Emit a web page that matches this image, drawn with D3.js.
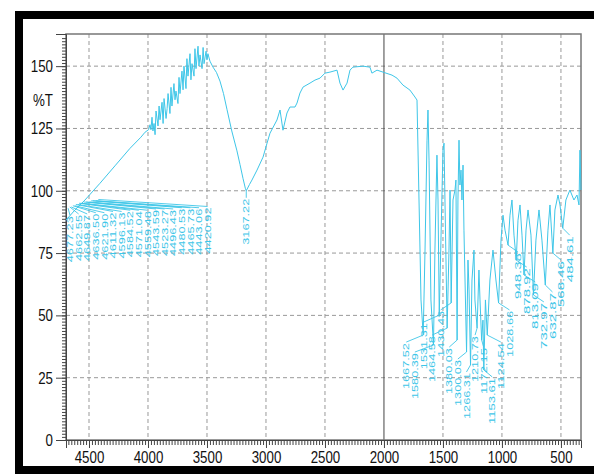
<!DOCTYPE html>
<html>
<head>
<meta charset="utf-8">
<script src="https://cdn.jsdelivr.net/npm/d3@7"></script>
<style>
    body { margin: 0; background: #fff; overflow: hidden; }
    svg { display: block; }
</style>
</head>
<body>
<div id="chart"></div>
<script>
// spectrum: [wavenumber cm-1, %T]
const spectrum = [
    [4695, 88.2], [4619, 92.3], [4534, 96.3], [4407, 103], [4280, 110], [4153, 117], [4060, 121.5], [4025, 123.5],
    [3995, 124.5], [3983, 126.5], [3975, 124.5], [3966, 129.5], [3958, 124], [3949, 127], [3940, 122.5],
    [3932, 132], [3915, 126], [3906, 134], [3898, 128.5], [3881, 135.5], [3872, 127], [3864, 137], [3847, 129],
    [3838, 133], [3830, 139], [3814, 131], [3805, 141.5], [3797, 134], [3780, 143], [3771, 136.5], [3763, 140],
    [3746, 135], [3737, 145.5], [3729, 139], [3712, 148], [3703, 140.5], [3695, 150], [3678, 141], [3670, 153],
    [3661, 146], [3644, 155], [3636, 144.5], [3627, 151], [3610, 146], [3602, 157], [3593, 149], [3576, 158],
    [3568, 150], [3559, 154.5], [3542, 149], [3533, 157.5], [3525, 151], [3508, 156], [3500, 152.5],
    [3492, 155], [3475, 152],
    [3449, 149.6], [3420, 147.5], [3390, 144], [3360, 139], [3330, 132.5], [3290, 124], [3246, 116],
    [3220, 110.5], [3195, 105], [3175, 101], [3167.22, 100], [3140, 102.5], [3119, 104.3],
    [3076, 108.3], [3025, 113.5], [2991, 119.1], [2966, 123.1], [2907, 128.4], [2881, 132.4], [2856, 124.3],
    [2822, 131.2], [2797, 133.6], [2754, 133.6], [2737, 135.2], [2712, 139.2], [2686, 141.6], [2627, 143.2],
    [2585, 144.4], [2542, 145.2], [2500, 147.2], [2458, 147.6], [2398, 148.4], [2373, 143.2], [2347, 140.4],
    [2313, 143.2], [2288, 148.4], [2263, 149.6], [2178, 150], [2119, 149.6], [2102, 147.2], [2059, 148.4],
    [2008, 147.6], [1932, 146.4], [1890, 145.2], [1839, 142.4], [1780, 140.4], [1737, 137.6], [1720, 136.4],
    [1703, 96.3], [1686, 56.2], [1667.52, 42.1], [1652, 76.2], [1635, 120.3], [1627, 132.4], [1618, 112.3],
    [1602, 56.2], [1580.39, 38.1], [1568, 76.2], [1551, 114.3], [1542, 96.3], [1531.31, 50.1], [1517, 80.2],
    [1500, 116.3], [1491, 119.1], [1483, 96.3], [1464.58, 44.9], [1449, 76.2], [1440, 100.3], [1430.43, 55],
    [1415, 96.3], [1398, 100.3], [1390, 104.3], [1380.03, 40.1], [1373, 96.3], [1364, 120.3], [1356, 102.3],
    [1347, 108.3], [1339, 96.3], [1330, 110.3], [1322, 84.2], [1300.03, 35.3], [1288, 72.2], [1279, 60.2],
    [1266.31, 30.1], [1254, 64.2], [1237, 76.2], [1229, 56.2], [1210.73, 44.9], [1195, 68.2], [1186, 56.2],
    [1172.15, 40.1], [1161, 48.1], [1153.61, 28.1], [1140, 56.2], [1124.54, 42.1], [1102, 64.2], [1076, 76.2],
    [1051, 64.2], [1028.66, 55], [1008, 80.2], [991, 90.2], [974, 84.2], [948.38, 78.2], [932, 90.2], [915, 96.3],
    [898, 82.2], [878.92, 72.2], [864, 88.2], [847, 94.3], [830, 82.2], [813.09, 66.2], [796, 84.2], [779, 92.3],
    [754, 82.2], [732.97, 58.2], [712, 80.2], [686, 92.3], [661, 80.2], [632.87, 62.2], [610, 84.2], [593, 94.3],
    [568.46, 75], [551, 92.3], [525, 98.3], [508, 94.3], [484.61, 85], [458, 96.3], [424, 100.3], [390, 96.3],
    [364, 98.3], [347, 94.3], [339, 116.3], [330, 100.3]
];

const peakPositions = [
    4677.23, 4662.55, 4649.87, 4636.50, 4621.90, 4611.32, 4596.13, 4584.52, 4571.04, 4559.48, 4543.59,
    4523.27, 4496.43, 4480.53, 4465.73, 4443.06, 4420.92,
    3167.22,
    1667.52, 1580.39, 1531.31, 1464.58, 1430.43, 1380.03, 1300.03, 1266.31, 1210.73, 1172.15, 1153.61,
    1124.54, 1028.66, 948.38, 878.92, 813.09, 732.97, 632.87, 568.46, 484.61
];
const peakValues = [
    93, 93.5, 93.5, 94, 94, 94.5, 94.5, 95, 95, 95, 95.5, 95.5, 95.5, 96, 96, 96, 96.5,
    100,
    42.1, 38.1, 50.1, 44.9, 55, 40.1, 35.3, 30.1, 44.9, 40.1, 28.1, 42.1, 55, 78.2, 72.2, 66.2, 58.2, 62.2, 75, 85
];

const xTicks = [4500, 4000, 3500, 3000, 2500, 2000, 1500, 1000, 500];
const yTicks = [0, 25, 50, 75, 100, 125, 150];

const width = 594, height = 474;
const margin = {top: 34, right: 13, bottom: 34, left: 66};
const cyan = "#3ec6e8";

const svg = d3.select("#chart").append("svg")
    .attr("width", width)
    .attr("height", height);

const x = d3.scaleLinear().domain([4695, 330]).range([margin.left, width - margin.right]);
const y = d3.scaleLinear().domain([0, 162.9]).range([height - margin.bottom, margin.top]);

// outer black frame (right side runs off the picture)
svg.append("path")
    .attr("d", "M700,15 H19 V470 H700")
    .attr("fill", "none")
    .attr("stroke", "#000")
    .attr("stroke-width", 8);

// grid
const grid = svg.append("g")
    .attr("stroke", "#999")
    .attr("stroke-dasharray", "4,3");
grid.selectAll("line.gx")
    .data(xTicks.filter(d => d !== 2000))
    .join("line")
    .attr("x1", d => x(d)).attr("x2", d => x(d))
    .attr("y1", y.range()[1]).attr("y2", y.range()[0]);
grid.selectAll("line.gy")
    .data(yTicks.filter(d => d > 0))
    .join("line")
    .attr("x1", x.range()[0]).attr("x2", x.range()[1])
    .attr("y1", d => y(d)).attr("y2", d => y(d));

svg.append("line")
    .attr("x1", x(2000)).attr("x2", x(2000))
    .attr("y1", y.range()[1]).attr("y2", y.range()[0])
    .attr("stroke", "#444");

svg.append("rect")
    .attr("x", x.range()[0]).attr("y", y.range()[1])
    .attr("width", x.range()[1] - x.range()[0])
    .attr("height", y.range()[0] - y.range()[1])
    .attr("fill", "none")
    .attr("stroke", "#777")
    .attr("stroke-width", 1.5);

// minor ticks
const minorY = d3.range(0, 162, 1.25);
const minorX = d3.range(350, 4700, 25);

svg.append("g")
    .attr("transform", `translate(${margin.left},0)`)
    .call(d3.axisLeft(y).tickValues(minorY).tickSize(4).tickFormat(""))
    .call(g => g.select(".domain").remove())
    .selectAll("line").attr("stroke", "#444");

svg.append("g")
    .attr("transform", `translate(0,${height - margin.bottom})`)
    .call(d3.axisBottom(x).tickValues(minorX).tickSize(5).tickFormat(""))
    .call(g => g.select(".domain").remove())
    .selectAll("line").attr("stroke", "#444");

// major axes
const yAxis = svg.append("g")
    .attr("transform", `translate(${margin.left},0)`)
    .call(d3.axisLeft(y).tickValues(yTicks).tickSize(10).tickPadding(3).tickFormat(d3.format("d")));
const xAxis = svg.append("g")
    .attr("transform", `translate(0,${height - margin.bottom})`)
    .call(d3.axisBottom(x).tickValues(xTicks).tickSize(8).tickPadding(3).tickFormat(d3.format("d")));

[yAxis, xAxis].forEach(g => {
    g.select(".domain").attr("stroke", "#444");
    g.selectAll("line").attr("stroke", "#444");
    g.selectAll("text")
        .attr("font-family", "'Liberation Sans', Arial, sans-serif")
        .attr("font-size", 17)
        .attr("fill", "#111")
        .attr("textLength", d => String(d).length * 7.4)
        .attr("lengthAdjust", "spacingAndGlyphs");
});

svg.append("text")
    .attr("x", 53).attr("y", 106)
    .attr("text-anchor", "end")
    .attr("font-family", "'Liberation Sans', Arial, sans-serif")
    .attr("font-size", 17)
    .attr("fill", "#111")
    .attr("textLength", 20)
    .attr("lengthAdjust", "spacingAndGlyphs")
    .text("%T");

// spectrum
const line = d3.line()
    .x(d => x(d[0]))
    .y(d => y(d[1]));

svg.append("path")
    .datum(spectrum)
    .attr("fill", "none")
    .attr("stroke", cyan)
    .attr("stroke-width", 1)
    .attr("stroke-linejoin", "round")
    .attr("d", line);

// peak labels, spread out so they do not overlap
const gap = 8.6;
const lo = x.range()[0] + 4, hi = x.range()[1] - 2;
const peaks = peakPositions.map((p, i) => ({pos: p, value: peakValues[i], px: x(p), py: y(peakValues[i])}))
    .sort((a, b) => a.px - b.px);

let groups = peaks.map(d => ({members: [d]}));
function place(g) {
    const n = g.members.length;
    const c = d3.mean(g.members, d => d.px);
    let start = c - (n - 1) * gap / 2;
    start = Math.max(lo, Math.min(hi - (n - 1) * gap, start));
    g.start = start;
    g.end = start + (n - 1) * gap;
}
groups.forEach(place);
let merged = true;
while (merged) {
    merged = false;
    for (let i = 0; i < groups.length - 1; i++) {
        if (groups[i].end + gap > groups[i + 1].start) {
            groups[i].members = groups[i].members.concat(groups[i + 1].members);
            groups.splice(i + 1, 1);
            place(groups[i]);
            merged = true;
            break;
        }
    }
}
groups.forEach(g => g.members.forEach((d, i) => { d.lx = g.start + i * gap; }));

const fmt = d3.format(".2f");
const labels = svg.append("g");

labels.selectAll("line")
    .data(peaks)
    .join("line")
    .attr("x1", d => d.px).attr("y1", d => d.py)
    .attr("x2", d => d.lx).attr("y2", d => d.py + 7)
    .attr("stroke", cyan)
    .attr("stroke-width", 0.9);

labels.selectAll("text")
    .data(peaks)
    .join("text")
    .attr("transform", d => `translate(${d.lx},${d.py + 8}) rotate(-90)`)
    .attr("text-anchor", "end")
    .attr("dy", "0.35em")
    .attr("font-family", "'Liberation Sans', Arial, sans-serif")
    .attr("font-size", 9)
    .attr("fill", cyan)
    .attr("textLength", 46)
    .attr("lengthAdjust", "spacingAndGlyphs")
    .text(d => fmt(d.pos));
</script>
</body>
</html>
